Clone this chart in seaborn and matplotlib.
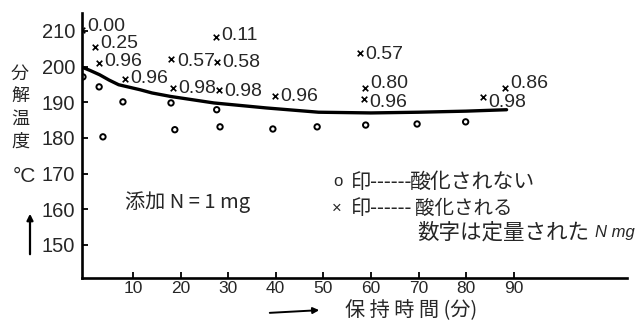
import matplotlib
matplotlib.use("Agg")
import matplotlib.pyplot as plt
import seaborn as sns
import pandas as pd

# ---- data ----
# open circles: o印 (not oxidized)
circ_t = [-0.5, 2.9, 3.7, 7.9, 18.0, 18.8, 27.6, 28.3, 39.4, 48.7, 58.9, 69.7, 79.9]
circ_temp = [197.1, 194.3, 180.3, 190.1, 189.8, 182.3, 187.9, 183.1, 182.5, 183.1, 183.6, 183.9, 184.5]

# crosses: ×印 (oxidized), with quantified N mg labels
cross_t = [-0.8, 2.0, 2.9, 8.3, 18.1, 18.5, 27.4, 27.7, 28.1, 39.8, 57.7, 58.7, 58.6, 83.6, 88.2]
cross_temp = [210.3, 205.6, 201.1, 196.5, 202.1, 193.9, 208.4, 201.4, 193.5, 191.8, 203.8, 193.9, 190.9, 191.6, 193.9]
cross_labels = ["0.00", "0.25", "0.96", "0.96", "0.57", "0.98", "0.11", "0.58", "0.98", "0.96",
                "0.57", "0.80", "0.96", "0.98", "0.86"]

# drawn curve
curve_t = [-1.0, 1.0, 3.0, 5.0, 7.0, 11.5, 14.0, 18.0, 22.0, 27.0, 38.0, 49.0, 60.0, 70.0, 80.0, 88.5]
curve_temp = [200.0, 198.9, 197.7, 196.2, 194.9, 193.5, 192.6, 191.6, 190.8, 189.8, 188.4, 187.2,
              187.0, 187.2, 187.5, 187.9]

x_ticks = [10, 20, 30, 40, 50, 60, 70, 80, 90]
y_ticks = [150, 160, 170, 180, 190, 200, 210]

# ---- layout: vertical nudge (pixels, up positive) of each number next to its ×
label_dy_px = [2.8, 3.0, 0.7, 0.7, -2.3, 0.0, 1.3, -0.7, -1.3, -1.0, -1.7, 5.0, -3.3, -6.0, 4.7]

# ---- figure ----
sns.set_theme(style="ticks")
plt.rcParams["font.family"] = ["Liberation Sans", "Noto Sans CJK JP", "DejaVu Sans"]
JP = ["Noto Sans CJK JP", "DejaVu Sans"]

W, H = 639, 320
fig = plt.figure(figsize=(W / 100, H / 100), dpi=100)
fig.patch.set_facecolor("white")

left_px, right_px, top_px, bot_px = 82, 627, 13, 278
ax = fig.add_axes([left_px / W, 1 - bot_px / H, (right_px - left_px) / W, (bot_px - top_px) / H])
ax.set_facecolor("white")

df_c = pd.DataFrame({"t": circ_t, "temp": circ_temp})
df_x = pd.DataFrame({"t": cross_t, "temp": cross_temp, "lab": cross_labels})
df_l = pd.DataFrame({"t": curve_t, "temp": curve_temp})

sns.lineplot(data=df_l, x="t", y="temp", color="black", linewidth=2.4,
             estimator=None, sort=False, ax=ax)

sns.scatterplot(data=df_c, x="t", y="temp", marker="o", s=15, ax=ax, zorder=3)
coll = ax.collections[-1]
coll.set_facecolor("none")
coll.set_edgecolor("black")
coll.set_linewidth(1.4)

sns.scatterplot(data=df_x, x="t", y="temp", marker="x", s=16, color="black", ax=ax, zorder=3)
coll = ax.collections[-1]
coll.set_edgecolor("black")
coll.set_facecolor("black")
coll.set_linewidth(1.2)

for (t, v, lab), dy in zip(zip(df_x["t"], df_x["temp"], df_x["lab"]), label_dy_px):
    ax.annotate(lab, (t, v), xytext=(3.8, dy * 0.72), textcoords="offset points",
                ha="left", va="center", fontsize=14, family="Liberation Sans")

ax.set_xlim(-0.7, 113.8)
ax.set_ylim(140.75, 215.0)
ax.set_xticks(x_ticks)
ax.set_yticks(y_ticks)
ax.set_xticklabels([str(v) for v in x_ticks])
ax.set_yticklabels([str(v) for v in y_ticks])
ax.tick_params(axis="both", direction="in", length=4.5, width=1.3, color="black")
ax.tick_params(axis="y", labelsize=14.5, pad=5)
ax.tick_params(axis="x", labelsize=12.5, pad=2)
ax.set_xlabel("")
ax.set_ylabel("")
sns.despine(ax=ax)
for s in ["left", "bottom"]:
    ax.spines[s].set_linewidth(1.9)
    ax.spines[s].set_color("black")
ax.grid(False)


def fx(px):
    return px / W


def fy(py):
    return 1 - py / H


# y-axis label, stacked vertically
fig.text(fx(20), fy(108), "分\n解\n温\n度", ha="center", va="center", fontsize=13,
         family=JP, linespacing=1.32)
fig.text(fx(24), fy(177), "°C", ha="center", va="center", fontsize=15, family="Liberation Sans")
fig.add_artist(matplotlib.patches.FancyArrowPatch((fx(30), fy(257)), (fx(30), fy(211)),
                                                  transform=fig.transFigure, arrowstyle="-|>",
                                                  mutation_scale=9, linewidth=1.6, color="black"))

# x-axis label with arrow
fig.add_artist(matplotlib.patches.FancyArrowPatch((fx(267), fy(313)), (fx(322), fy(310)),
                                                  transform=fig.transFigure, arrowstyle="-|>",
                                                  mutation_scale=9, linewidth=1.4, color="black"))
fig.text(fx(345), fy(311), "保 持 時 間 (分)", ha="left", va="center", fontsize=14.5, family=JP)

# annotation inside plot
fig.text(fx(125), fy(202), "添加 N = 1 mg", ha="left", va="center", fontsize=14.5, family=JP)

# legend-like notes
fig.text(fx(333), fy(182), "o", ha="left", va="center", fontsize=12, family="Liberation Sans")
fig.text(fx(351), fy(182), "印------", ha="left", va="center", fontsize=14.5, family=JP)
fig.text(fx(410), fy(182), "酸化されない", ha="left", va="center", fontsize=15, family=JP)
fig.text(fx(332), fy(208), "×", ha="left", va="center", fontsize=12, family="Liberation Sans")
fig.text(fx(351), fy(208), "印------", ha="left", va="center", fontsize=14.5, family=JP)
fig.text(fx(415), fy(208), "酸化される", ha="left", va="center", fontsize=14, family=JP)
fig.text(fx(417), fy(233), "数字は定量された", ha="left", va="center", fontsize=15.5, family=JP)
fig.text(fx(595), fy(233), "N mg", ha="left", va="center", fontsize=12, family="Liberation Sans",
         style="italic")

fig.savefig("out.png", dpi=100, facecolor="white")
